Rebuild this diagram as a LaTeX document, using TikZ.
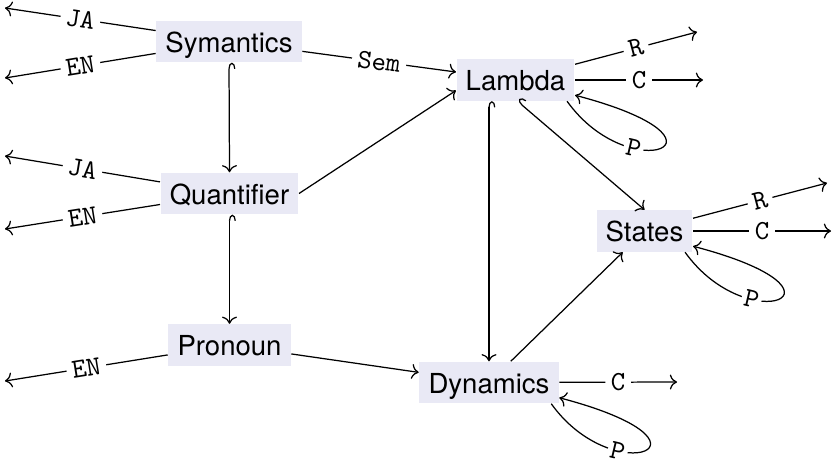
\documentclass[tikz,border=0pt]{standalone}
\usepackage{fontspec}
\setsansfont{TeX Gyre Heros}
\usetikzlibrary{arrows.meta,calc}
\definecolor{boxfill}{RGB}{233,233,245}
\begin{document}
\begin{tikzpicture}[x=0.363pt,y=-0.363pt, line width=0.45pt,
  box/.style={fill=boxfill, font=\sffamily, text height=8pt, text depth=0.3pt, inner sep=3.33pt},
  lab/.style={fill=white, font=\ttfamily, inner sep=2pt, sloped},
  hookconn/.style={{Hooks[right,length=2.2pt,width=4.6pt]}->},
]
\useasboundingbox (0,0) rectangle (833,460);
% nodes
\node[box] (sym) at (229,41.5) {Symantics};
\node[box] (lam) at (515.5,80) {Lambda};
\node[box] (qua) at (229.5,193.5) {Quantifier};
\node[box] (sta) at (644.5,231) {States};
\node[box] (pro) at (229.5,345) {Pronoun};
\node[box] (dyn) at (489,382.5) {Dynamics};
% free ends
\coordinate (symja) at (5,8);
\coordinate (symen) at (5,78);
\coordinate (quaja) at (5,156);
\coordinate (quaen) at (5,229);
\coordinate (proen) at (5,381);
\coordinate (lamr) at (697,32);
\coordinate (lamc) at (703,80);
\coordinate (star) at (827,183);
\coordinate (stac) at (831,231);
\coordinate (dync) at (677,382);
% outgoing interpretations
\draw[->] (sym) -- node[lab]{JA} (symja);
\draw[->] (sym) -- node[lab]{EN} (symen);
\draw[->] (qua) -- node[lab]{JA} (quaja);
\draw[->] (qua) -- node[lab]{EN} (quaen);
\draw[->] (pro) -- node[lab]{EN} (proen);
\draw[->] (lam) -- node[lab]{R} (lamr);
\draw[->] (lam) -- node[lab]{C} (lamc);
\draw[->] (sta) -- node[lab]{R} (star);
\draw[->] (sta) -- node[lab]{C} (stac);
\draw[->] (dyn) -- node[lab]{C} (dync);
% main arrows
\draw[->] (sym) -- node[lab]{Sem} (lam);
\draw[hookconn] (sym.south) -- (qua.north);
\draw[hookconn] (qua.south) -- (pro.north);
\draw[->] (qua.east) -- (lam.190);
\draw[->] (pro) -- (dyn);
\draw[hookconn] (lam.south -| dyn.north) -- (dyn.north);
\draw[hookconn] ($(lam.south)+(2,0)$) -- (sta.north);
\draw[->] (dyn) -- (sta);
% loops
\foreach \n in {lam,sta,dyn}{
  \draw[->] ($(\n.south east)+(-8,0)$) .. controls +(63,88) and +(175,46) .. node[lab,pos=0.32,inner sep=1pt]{P} ($(\n.south east)+(0,-6)$);
}
\end{tikzpicture}
\end{document}
